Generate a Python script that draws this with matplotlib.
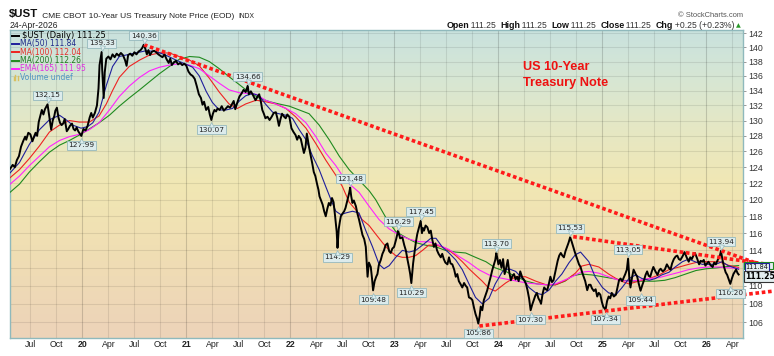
import numpy as np
import matplotlib.pyplot as plt
from matplotlib.colors import LinearSegmentedColormap
from matplotlib.lines import Line2D
from matplotlib.patches import Rectangle
from matplotlib.ticker import FixedLocator, FixedFormatter, NullLocator
from matplotlib.transforms import offset_copy, blended_transform_factory

W, H = 774, 356

# $UST daily close (decimal year, price)
ust = [
    (2019.305, 123.8), (2019.33, 124.3), (2019.35, 124.0), (2019.37, 124.9), (2019.39, 125.4),
    (2019.41, 126.6), (2019.43, 127.3), (2019.45, 127.9), (2019.46, 127.5), (2019.48, 128.4),
    (2019.50, 128.2), (2019.52, 127.3), (2019.535, 127.9), (2019.55, 128.4), (2019.565, 128.0),
    (2019.58, 129.8), (2019.595, 130.6), (2019.61, 131.4), (2019.625, 130.8), (2019.64, 131.5),
    (2019.655, 131.9), (2019.665, 132.15), (2019.675, 131.2), (2019.69, 129.7), (2019.70, 128.8),
    (2019.715, 130.0), (2019.73, 130.6), (2019.74, 131.3), (2019.755, 131.7), (2019.77, 130.4),
    (2019.785, 129.7), (2019.80, 129.4), (2019.815, 129.6), (2019.83, 130.2), (2019.85, 128.6),
    (2019.865, 128.9), (2019.88, 129.3), (2019.90, 129.6), (2019.915, 128.9), (2019.93, 128.7),
    (2019.945, 129.1), (2019.96, 128.6), (2019.975, 128.3), (2019.99, 127.99), (2020.01, 128.9),
    (2020.03, 128.7), (2020.05, 129.3), (2020.07, 130.4), (2020.085, 131.0), (2020.10, 130.4),
    (2020.12, 131.0), (2020.14, 132.0), (2020.155, 134.3), (2020.165, 137.5), (2020.185, 139.33),
    (2020.19, 137.0), (2020.205, 133.0), (2020.215, 136.5), (2020.23, 138.4), (2020.25, 138.7),
    (2020.27, 138.3), (2020.29, 139.0), (2020.31, 138.6), (2020.33, 139.1), (2020.35, 138.8),
    (2020.37, 139.2), (2020.39, 138.9), (2020.41, 138.2), (2020.425, 137.4), (2020.44, 138.9),
    (2020.46, 139.1), (2020.48, 138.8), (2020.50, 139.3), (2020.52, 139.0), (2020.54, 139.4),
    (2020.56, 139.6), (2020.575, 139.9), (2020.59, 140.36), (2020.605, 139.8), (2020.62, 139.0),
    (2020.635, 139.6), (2020.65, 138.9), (2020.67, 139.4), (2020.69, 139.5), (2020.71, 139.3),
    (2020.73, 139.0), (2020.75, 138.8), (2020.77, 138.6), (2020.79, 139.0), (2020.81, 138.3),
    (2020.83, 137.8), (2020.845, 138.4), (2020.86, 137.5), (2020.88, 137.9), (2020.90, 138.1),
    (2020.92, 137.6), (2020.94, 137.8), (2020.96, 137.5), (2020.98, 137.7), (2021.00, 137.4),
    (2021.02, 136.6), (2021.04, 136.2), (2021.06, 136.0), (2021.08, 135.6), (2021.10, 134.6),
    (2021.12, 133.5), (2021.14, 133.0), (2021.155, 132.1), (2021.17, 132.5), (2021.19, 131.4),
    (2021.21, 131.8), (2021.225, 130.8), (2021.24, 130.07), (2021.255, 130.9), (2021.27, 131.4),
    (2021.285, 131.2), (2021.30, 131.6), (2021.32, 131.4), (2021.34, 131.9), (2021.36, 131.3),
    (2021.38, 131.6), (2021.40, 131.9), (2021.42, 131.7), (2021.44, 132.2), (2021.455, 132.6),
    (2021.47, 131.5), (2021.49, 132.4), (2021.51, 133.2), (2021.53, 133.6), (2021.55, 134.1),
    (2021.57, 133.8), (2021.59, 134.66), (2021.60, 133.5), (2021.62, 133.9), (2021.64, 133.4),
    (2021.665, 132.7), (2021.685, 133.2), (2021.70, 133.5), (2021.715, 132.6), (2021.73, 131.4),
    (2021.745, 130.9), (2021.76, 130.3), (2021.78, 130.5), (2021.80, 130.07), (2021.82, 130.5),
    (2021.84, 131.0), (2021.86, 131.1), (2021.875, 130.3), (2021.89, 129.3), (2021.905, 130.2),
    (2021.92, 130.9), (2021.94, 130.5), (2021.955, 130.3), (2021.97, 130.8), (2021.99, 130.5),
    (2022.01, 129.0), (2022.03, 128.5), (2022.05, 128.1), (2022.065, 127.5), (2022.08, 128.0),
    (2022.10, 127.6), (2022.115, 126.7), (2022.13, 125.8), (2022.145, 126.5), (2022.158, 128.3),
    (2022.175, 126.9), (2022.19, 125.8), (2022.21, 124.5), (2022.225, 123.4), (2022.24, 122.9),
    (2022.255, 122.0), (2022.27, 121.2), (2022.28, 120.4), (2022.295, 119.9), (2022.31, 119.4),
    (2022.325, 118.6), (2022.34, 118.0), (2022.355, 118.9), (2022.37, 119.6), (2022.385, 119.3),
    (2022.40, 120.2), (2022.415, 119.7), (2022.43, 118.0), (2022.445, 116.2), (2022.453, 114.29),
    (2022.465, 116.5), (2022.475, 117.3), (2022.485, 118.0), (2022.50, 118.3), (2022.517, 118.6),
    (2022.53, 119.0), (2022.549, 120.0), (2022.565, 120.8), (2022.575, 121.48), (2022.585, 120.4),
    (2022.597, 119.6), (2022.61, 119.9), (2022.63, 119.2), (2022.645, 118.3), (2022.66, 117.6),
    (2022.675, 116.8), (2022.693, 115.8), (2022.71, 115.3), (2022.725, 114.4), (2022.735, 112.4),
    (2022.742, 111.0), (2022.755, 112.6), (2022.773, 112.1), (2022.785, 110.8), (2022.795, 109.48),
    (2022.81, 110.5), (2022.825, 111.0), (2022.837, 111.3), (2022.85, 112.3), (2022.869, 112.9),
    (2022.885, 113.6), (2022.90, 114.0), (2022.915, 114.6), (2022.933, 114.8), (2022.95, 113.9),
    (2022.965, 113.7), (2022.98, 114.2), (2022.997, 114.4), (2023.015, 115.2), (2023.036, 116.29),
    (2023.055, 115.4), (2023.077, 115.5), (2023.095, 114.6), (2023.11, 114.0), (2023.125, 113.0),
    (2023.14, 112.1), (2023.152, 111.3), (2023.163, 110.29), (2023.18, 112.5), (2023.196, 114.0),
    (2023.21, 115.2), (2023.22, 115.9), (2023.235, 116.6), (2023.253, 117.45), (2023.265, 116.0),
    (2023.275, 116.6), (2023.285, 116.3), (2023.30, 116.9), (2023.317, 116.7), (2023.335, 116.0),
    (2023.35, 116.3), (2023.365, 115.2), (2023.38, 114.4), (2023.395, 114.8), (2023.41, 114.0),
    (2023.425, 113.6), (2023.446, 113.2), (2023.46, 113.6), (2023.475, 113.0), (2023.49, 112.6),
    (2023.51, 112.4), (2023.525, 113.2), (2023.54, 112.5), (2023.557, 112.4), (2023.575, 111.8),
    (2023.59, 111.0), (2023.605, 111.3), (2023.62, 110.5), (2023.635, 110.2), (2023.653, 109.8),
    (2023.67, 110.3), (2023.685, 110.0), (2023.70, 109.8), (2023.717, 108.7), (2023.735, 108.6),
    (2023.75, 108.4), (2023.765, 107.6), (2023.78, 106.9), (2023.795, 106.4), (2023.807, 105.86),
    (2023.82, 106.7), (2023.83, 107.7), (2023.845, 107.3), (2023.86, 108.4), (2023.875, 108.9),
    (2023.893, 109.5), (2023.91, 110.3), (2023.926, 111.0), (2023.94, 111.7), (2023.958, 112.4),
    (2023.97, 112.9), (2023.98, 113.70), (2023.99, 113.1), (2024.0, 112.4), (2024.015, 112.9),
    (2024.03, 112.0), (2024.045, 113.0), (2024.06, 111.3), (2024.075, 112.0), (2024.09, 112.9),
    (2024.105, 111.5), (2024.12, 110.6), (2024.135, 111.1), (2024.15, 111.3), (2024.165, 110.7),
    (2024.18, 111.0), (2024.195, 110.5), (2024.21, 111.6), (2024.23, 110.9), (2024.25, 110.6),
    (2024.265, 110.2), (2024.28, 109.5), (2024.295, 108.6), (2024.31, 107.30), (2024.325, 107.9),
    (2024.34, 108.4), (2024.355, 108.9), (2024.37, 109.2), (2024.385, 108.6), (2024.40, 108.3),
    (2024.41, 108.0), (2024.425, 109.1), (2024.44, 109.8), (2024.455, 109.6), (2024.47, 109.5),
    (2024.485, 110.2), (2024.50, 111.0), (2024.515, 110.4), (2024.53, 110.6), (2024.545, 111.4),
    (2024.557, 112.1), (2024.57, 112.8), (2024.585, 113.4), (2024.60, 113.7), (2024.615, 113.4),
    (2024.63, 113.2), (2024.645, 113.9), (2024.66, 114.4), (2024.675, 114.9), (2024.69, 115.53),
    (2024.705, 115.0), (2024.72, 114.4), (2024.735, 113.8), (2024.76, 112.9), (2024.775, 112.4),
    (2024.79, 112.1), (2024.805, 111.5), (2024.82, 111.0), (2024.835, 110.5), (2024.854, 109.5),
    (2024.87, 110.1), (2024.886, 110.1), (2024.90, 109.7), (2024.918, 109.4), (2024.935, 109.6),
    (2024.95, 108.8), (2024.965, 109.2), (2024.98, 109.0), (2024.995, 108.2), (2025.008, 107.7),
    (2025.03, 107.34), (2025.045, 108.3), (2025.06, 108.8), (2025.075, 108.6), (2025.09, 109.2),
    (2025.11, 108.8), (2025.13, 109.0), (2025.145, 109.8), (2025.16, 110.6), (2025.175, 110.8),
    (2025.19, 110.5), (2025.205, 110.9), (2025.22, 111.3), (2025.235, 111.8), (2025.247, 113.05),
    (2025.258, 111.0), (2025.27, 109.8), (2025.285, 110.9), (2025.30, 111.8), (2025.32, 111.3),
    (2025.335, 111.0), (2025.35, 110.2), (2025.367, 109.44), (2025.385, 110.1), (2025.40, 110.6),
    (2025.415, 111.2), (2025.43, 111.6), (2025.445, 111.1), (2025.46, 111.0), (2025.475, 111.6),
    (2025.49, 112.1), (2025.51, 111.6), (2025.53, 111.2), (2025.545, 111.7), (2025.56, 111.9),
    (2025.58, 111.6), (2025.60, 111.8), (2025.62, 112.4), (2025.64, 112.0), (2025.655, 111.8),
    (2025.67, 112.5), (2025.687, 113.0), (2025.705, 113.3), (2025.72, 113.4), (2025.735, 113.0),
    (2025.75, 112.9), (2025.77, 113.3), (2025.79, 113.8), (2025.81, 113.2), (2025.83, 112.7),
    (2025.845, 113.2), (2025.86, 113.0), (2025.875, 113.4), (2025.89, 113.7), (2025.91, 113.1),
    (2025.93, 112.4), (2025.945, 112.8), (2025.96, 112.7), (2025.975, 112.9), (2025.99, 112.25),
    (2026.005, 112.5), (2026.02, 112.7), (2026.04, 112.3), (2026.06, 112.1), (2026.075, 112.6),
    (2026.09, 112.4), (2026.105, 112.8), (2026.12, 113.2), (2026.132, 113.5), (2026.14, 113.94),
    (2026.155, 112.9), (2026.17, 112.1), (2026.185, 111.5), (2026.20, 111.2), (2026.215, 110.7),
    (2026.23, 110.20), (2026.245, 110.8), (2026.26, 111.3), (2026.275, 111.6), (2026.285, 111.8),
    (2026.30, 111.4), (2026.31, 111.25),
]

ma50 = [
    (2019.305, 123.3), (2019.395, 124.6), (2019.49, 126.9), (2019.587, 128.8), (2019.683, 130.1),
    (2019.78, 130.7), (2019.843, 130.1), (2019.907, 129.4), (2019.987, 129.0), (2020.05, 129.2),
    (2020.10, 129.7), (2020.16, 131.1), (2020.23, 134.7), (2020.29, 137.3), (2020.355, 138.7),
    (2020.48, 139.1), (2020.61, 139.5), (2020.71, 139.4), (2020.80, 138.9), (2020.90, 138.2),
    (2021.0, 137.6), (2021.06, 137.2), (2021.124, 136.0), (2021.19, 133.9), (2021.25, 132.4),
    (2021.316, 131.4), (2021.38, 131.4), (2021.444, 131.6), (2021.51, 132.6), (2021.57, 133.3),
    (2021.636, 133.6), (2021.70, 133.3), (2021.76, 132.2), (2021.83, 131.1), (2021.89, 130.9),
    (2021.957, 130.7), (2022.02, 130.3), (2022.085, 128.8), (2022.15, 127.5), (2022.21, 125.5),
    (2022.277, 123.7), (2022.34, 121.6), (2022.39, 120.0), (2022.437, 118.6), (2022.485, 118.2),
    (2022.533, 118.4), (2022.597, 118.6), (2022.66, 118.4), (2022.725, 116.3), (2022.79, 114.4),
    (2022.853, 112.4), (2022.90, 111.9), (2022.95, 112.25), (2023.013, 113.2), (2023.077, 114.0),
    (2023.14, 113.8), (2023.205, 114.0), (2023.27, 114.6), (2023.35, 115.4), (2023.40, 115.4),
    (2023.46, 114.4), (2023.525, 113.7), (2023.59, 112.9), (2023.653, 111.8), (2023.717, 110.2),
    (2023.78, 108.7), (2023.845, 108.0), (2023.91, 108.6), (2023.97, 110.2), (2024.04, 111.6),
    (2024.10, 111.9), (2024.166, 111.6), (2024.23, 110.8), (2024.294, 109.8), (2024.36, 109.2),
    (2024.42, 109.0), (2024.486, 109.5), (2024.55, 110.5), (2024.61, 111.3), (2024.68, 112.6),
    (2024.74, 113.5), (2024.79, 113.8), (2024.87, 112.7), (2024.93, 111.0), (2025.0, 109.8),
    (2025.06, 109.2), (2025.13, 109.0), (2025.19, 109.8), (2025.255, 110.8), (2025.32, 111.2),
    (2025.38, 110.8), (2025.45, 110.6), (2025.51, 110.8), (2025.57, 111.2), (2025.64, 111.5),
    (2025.70, 112.1), (2025.77, 112.7), (2025.83, 113.0), (2025.89, 112.7), (2025.96, 112.4),
    (2026.02, 112.4), (2026.09, 112.4), (2026.15, 112.7), (2026.21, 112.25), (2026.31, 111.84),
]

ma100 = [
    (2019.305, 122.7), (2019.395, 123.7), (2019.49, 125.1), (2019.587, 126.7), (2019.683, 128.5),
    (2019.78, 129.4), (2019.875, 130.0), (2019.97, 129.8), (2020.067, 129.8), (2020.16, 130.6),
    (2020.23, 132.2), (2020.29, 134.0), (2020.355, 135.8), (2020.45, 137.3), (2020.55, 138.2),
    (2020.645, 138.9), (2020.74, 139.2), (2020.836, 139.2), (2020.93, 138.7), (2021.03, 138.2),
    (2021.124, 137.4), (2021.22, 135.7), (2021.316, 133.8), (2021.41, 132.2), (2021.49, 131.6),
    (2021.57, 132.2), (2021.67, 132.7), (2021.76, 132.5), (2021.86, 132.2), (2021.957, 131.6),
    (2022.05, 130.5), (2022.15, 129.0), (2022.245, 127.0), (2022.34, 124.9), (2022.437, 123.0),
    (2022.50, 121.6), (2022.565, 119.7), (2022.63, 118.75), (2022.69, 117.6), (2022.757, 116.9),
    (2022.82, 115.9), (2022.885, 114.9), (2022.95, 114.0), (2023.013, 113.4), (2023.077, 113.2),
    (2023.14, 113.2), (2023.205, 113.4), (2023.27, 114.0), (2023.33, 114.6), (2023.40, 114.6),
    (2023.46, 114.4), (2023.525, 114.0), (2023.59, 113.4), (2023.653, 112.7), (2023.717, 111.9),
    (2023.78, 111.2), (2023.845, 110.5), (2023.91, 109.7), (2023.97, 109.4), (2024.07, 110.3),
    (2024.166, 111.0), (2024.26, 111.0), (2024.36, 110.5), (2024.46, 110.1), (2024.55, 110.1),
    (2024.65, 110.6), (2024.74, 111.4), (2024.80, 112.2), (2024.87, 112.4), (2024.966, 112.1),
    (2025.06, 111.3), (2025.16, 110.6), (2025.255, 110.2), (2025.35, 110.5), (2025.45, 110.8),
    (2025.545, 111.2), (2025.64, 111.8), (2025.74, 112.1), (2025.83, 112.4), (2025.93, 112.7),
    (2026.02, 112.7), (2026.12, 112.7), (2026.21, 112.3), (2026.31, 112.04),
]

ma200 = [
    (2019.305, 120.9), (2019.395, 121.9), (2019.49, 123.4), (2019.587, 124.7), (2019.683, 125.9),
    (2019.78, 126.8), (2019.875, 127.4), (2019.97, 128.1), (2020.067, 128.9), (2020.16, 129.7),
    (2020.26, 130.7), (2020.355, 131.9), (2020.45, 133.0), (2020.55, 134.1), (2020.645, 135.2),
    (2020.74, 136.3), (2020.836, 137.3), (2020.93, 138.3), (2021.03, 138.7), (2021.124, 138.6),
    (2021.22, 138.0), (2021.316, 137.0), (2021.41, 135.9), (2021.51, 134.8), (2021.60, 133.8),
    (2021.70, 133.0), (2021.80, 132.5), (2021.89, 132.2), (2021.99, 131.9), (2022.085, 131.4),
    (2022.18, 130.9), (2022.277, 129.4), (2022.373, 127.5), (2022.47, 125.4), (2022.565, 123.7),
    (2022.66, 122.4), (2022.757, 121.1), (2022.82, 120.0), (2022.92, 117.8), (2023.013, 116.2),
    (2023.11, 115.5), (2023.205, 114.9), (2023.30, 114.6), (2023.40, 114.4), (2023.49, 114.0),
    (2023.59, 113.8), (2023.685, 113.7), (2023.78, 113.2), (2023.88, 112.7), (2023.97, 112.0),
    (2024.07, 111.6), (2024.17, 111.0), (2024.27, 110.5), (2024.37, 110.2), (2024.46, 110.1),
    (2024.55, 110.1), (2024.64, 110.5), (2024.71, 111.1), (2024.80, 111.3), (2024.90, 111.2),
    (2025.0, 111.0), (2025.10, 110.8), (2025.20, 110.6), (2025.30, 110.5), (2025.40, 110.5),
    (2025.50, 110.5), (2025.60, 110.6), (2025.70, 110.9), (2025.80, 111.3), (2025.90, 111.7),
    (2026.0, 111.9), (2026.10, 112.0), (2026.20, 112.15), (2026.31, 112.26),
]

ema165 = [
    (2019.305, 121.9), (2019.395, 122.9), (2019.49, 124.2), (2019.587, 125.4), (2019.683, 126.6),
    (2019.78, 127.4), (2019.875, 127.9), (2019.97, 128.2), (2020.067, 128.8), (2020.16, 129.7),
    (2020.26, 131.4), (2020.355, 133.2), (2020.45, 134.6), (2020.55, 135.8), (2020.645, 136.7),
    (2020.74, 137.2), (2020.836, 137.5), (2020.93, 137.7), (2021.03, 137.5), (2021.124, 137.0),
    (2021.22, 136.0), (2021.316, 135.0), (2021.41, 134.1), (2021.51, 133.7), (2021.60, 133.6),
    (2021.67, 133.5), (2021.76, 132.7), (2021.86, 132.2), (2021.957, 131.6), (2022.05, 130.9),
    (2022.15, 129.7), (2022.245, 127.9), (2022.34, 125.8), (2022.437, 124.2), (2022.533, 122.3),
    (2022.66, 120.9), (2022.757, 119.2), (2022.853, 117.6), (2022.95, 116.5), (2023.045, 115.8),
    (2023.14, 115.3), (2023.24, 115.0), (2023.33, 115.0), (2023.43, 114.6), (2023.525, 114.1),
    (2023.62, 113.3), (2023.717, 112.6), (2023.81, 111.8), (2023.91, 111.2), (2024.0, 110.9),
    (2024.09, 110.7), (2024.18, 110.5), (2024.27, 110.3), (2024.36, 110.2), (2024.46, 110.1),
    (2024.55, 110.2), (2024.63, 110.6), (2024.71, 111.0), (2024.79, 111.5), (2024.87, 111.6),
    (2024.966, 111.4), (2025.06, 111.0), (2025.16, 110.6), (2025.255, 110.5), (2025.35, 110.6),
    (2025.45, 110.8), (2025.545, 110.9), (2025.64, 111.2), (2025.74, 111.5), (2025.83, 111.8),
    (2025.93, 112.0), (2026.02, 112.1), (2026.12, 112.1), (2026.21, 112.0), (2026.31, 111.95),
]

# labelled highs / lows
lab_t = [2019.665, 2019.99, 2020.185, 2020.59, 2021.24, 2021.59, 2022.453, 2022.575, 2022.795,
         2023.036, 2023.163, 2023.253, 2023.807, 2023.98, 2024.31, 2024.69, 2025.03, 2025.247,
         2025.367, 2026.14, 2026.23]
lab_v = [132.15, 127.99, 139.33, 140.36, 130.07, 134.66, 114.29, 121.48, 109.48,
         116.29, 110.29, 117.45, 105.86, 113.70, 107.30, 115.53, 107.34, 113.05,
         109.44, 113.94, 110.20]
lab_up = [True, False, True, True, False, True, False, True, False,
          True, False, True, False, True, False, True, False, True,
          False, True, False]

# hand drawn trend lines (start, end)
trend_lines = [
    ((2020.592, 140.36), (2026.631, 111.90)),
    ((2024.720, 115.59), (2026.631, 112.33)),
    ((2023.817, 105.60), (2026.631, 109.38)),
]

# last values shown as tags on the price axis
tag_v = [112.26, 111.84, 111.25]

xtick_labels = ['Jul', 'Oct', '20', 'Apr', 'Jul', 'Oct', '21', 'Apr', 'Jul', 'Oct', '22', 'Apr',
                'Jul', 'Oct', '23', 'Apr', 'Jul', 'Oct', '24', 'Apr', 'Jul', 'Oct', '25', 'Apr',
                'Jul', 'Oct', '26', 'Apr']
yticks = list(range(106, 143, 2))
# 112 sits under the value tags on the original, so it is not printed
ytick_labels = ['' if v == 112 else str(v) for v in yticks]

legend_rows = [
    ('$UST (Daily) 111.25', 'black', '#000000'),
    ('MA(50) 111.84', '#1f2a8a', '#1f1f9c'),
    ('MA(100) 112.04', '#e5302a', '#ee2222'),
    ('MA(200) 112.26', '#1f7a1f', '#1f8a1f'),
    ('EMA(165) 111.95', '#e02ee0', '#ff22ff'),
]

plt.rcParams['font.family'] = ['DejaVu Sans']

fig = plt.figure(figsize=(W / 100, H / 100), dpi=100)
fig.patch.set_facecolor('white')

L, R, T, B = 10, 743, 30, 337.7
pos = [L / W, 1 - B / H, (R - L) / W, (B - T) / H]

# gradient background
bg = fig.add_axes(pos, zorder=0)
cmap = LinearSegmentedColormap.from_list('bg', [
    (0.0, '#edd3b9'), (0.3, '#f0dfb3'), (0.5, '#f1e7b4'),
    (0.7, '#e4e8c6'), (0.85, '#d6e6d4'), (1.0, '#c9e2de')])
bg.imshow(np.linspace(0, 1, 256).reshape(-1, 1), aspect='auto', cmap=cmap,
          origin='lower', extent=[0, 1, 0, 1])
bg.axis('off')

ax = fig.add_axes(pos, zorder=1)
ax.patch.set_alpha(0)
ax.set_yscale('log')
ax.set_xlim(2019.304, 2026.352)
ax.set_ylim(104.36, 142.47)

xt = 2019.5 + 0.25 * np.arange(len(xtick_labels))
ax.xaxis.set_major_locator(FixedLocator(xt))
ax.xaxis.set_major_formatter(FixedFormatter(xtick_labels))
ax.xaxis.set_minor_locator(NullLocator())
ax.tick_params(axis='x', length=0, pad=2.0, labelsize=6.3, labelcolor='#222222')
for lbl in ax.get_xticklabels():
    lbl.set_family('Liberation Sans')
    if lbl.get_text().isdigit():
        lbl.set_fontweight('bold')

ax.yaxis.tick_right()
ax.yaxis.set_major_locator(FixedLocator(yticks))
ax.yaxis.set_major_formatter(FixedFormatter(ytick_labels))
ax.yaxis.set_minor_locator(NullLocator())
ax.tick_params(axis='y', length=2.5, width=0.6, color='#888888', pad=1.5,
               labelsize=6.3, labelcolor='#333333')
for lbl in ax.get_yticklabels():
    lbl.set_family('Liberation Sans')

for v in yticks:
    ax.axhline(v, color='#000000', alpha=0.09, lw=0.8, zorder=1)
for x, s in zip(xt, xtick_labels):
    ax.axvline(x, color='#000000', alpha=0.16 if s.isdigit() else 0.09, lw=0.8, zorder=1)

for sp in ax.spines.values():
    sp.set_color('#8fb9bc')
    sp.set_linewidth(1.0)

# moving averages
for data, c in [(ma200, '#1f8a1f'), (ma100, '#ee2222'), (ema165, '#ff22ff'), (ma50, '#1f1f9c')]:
    t, v = zip(*data)
    ax.plot(t, v, color=c, lw=0.8, zorder=3)

t, v = zip(*ust)
ax.plot(t, v, color='black', lw=1.4, zorder=4, solid_joinstyle='round')

# trend lines
for (t0, v0), (t1, v1) in trend_lines:
    ax.plot([t0, t1], [v0, v1], color='#ff1a1a', lw=2.6, linestyle=(0, (1, 0.75)),
            dash_capstyle='butt', zorder=5, clip_on=False)

# high/low labels
box_fc, box_ec = '#dcebec', '#95b9bd'
for t, v, up in zip(lab_t, lab_v, lab_up):
    dy = 9.0 if up else -9.5
    ax.annotate(f'{v:.2f}', (t, v), xytext=(0, dy * 0.72), textcoords='offset points',
                ha='center', va='center', fontsize=5.3, color='#222222', zorder=7,
                bbox=dict(boxstyle='square,pad=0.2', fc=box_fc, ec=box_ec, lw=0.6))
    tr = offset_copy(ax.transData, fig=fig, x=0, y=(4.2 if up else -4.2), units='dots')
    ax.plot([t], [v], marker='v' if up else '^', ms=3.6, mfc=box_fc, mec=box_ec, mew=0.5,
            transform=tr, zorder=8, clip_on=False)

# value tags at right edge (stacked, the top one mostly hidden as on the original)
trb = blended_transform_factory(ax.transAxes, ax.transData)
ax.add_patch(Rectangle((1.002, tag_v[0] - 0.42), 0.039, 0.84, transform=trb, fc='#e4eef0',
                       ec='#1f8a1f', lw=0.8, clip_on=False, zorder=9))
tr_up = offset_copy(trb, fig=fig, x=0, y=2.2, units='dots')
ax.text(1.003, tag_v[1], f'{tag_v[1]:.2f}', transform=tr_up, fontsize=4.8, ha='left',
        va='center', color='#111111', clip_on=False, zorder=9,
        bbox=dict(boxstyle='square,pad=0.1', fc='#e4eef0', ec='#1f1f9c', lw=0.8))
tr_dn = offset_copy(trb, fig=fig, x=0, y=-1.8, units='dots')
ax.text(1.003, tag_v[2], f'{tag_v[2]:.2f}', transform=tr_dn, fontsize=5.6, fontweight='bold',
        ha='left', va='center', color='black', clip_on=False, zorder=10,
        bbox=dict(boxstyle='square,pad=0.1', fc='#e4eef0', ec='#333333', lw=0.8))

# chart note
fig.text(523 / W, 1 - 69.5 / H, 'US 10-Year', fontsize=9.2, color='#ee1111',
         family='Liberation Sans', fontweight='bold', va='baseline')
fig.text(523 / W, 1 - 86.3 / H, 'Treasury Note', fontsize=9.2, color='#ee1111',
         family='Liberation Sans', fontweight='bold', va='baseline')

# legend block
rows_y = [35.6, 43.9, 52.2, 60.5, 68.8, 77.1]
for i, (txt, tc, lc) in enumerate(legend_rows):
    y = 1 - rows_y[i] / H
    fig.add_artist(Line2D([12.5 / W, 18.8 / W], [y, y], color=lc, lw=1.4, zorder=20))
    fig.text((22.3 if i == 0 else 20.0) / W, y, txt, fontsize=6.0 if i == 0 else 5.5,
             color=tc, va='center', zorder=20)
yv = 1 - rows_y[5] / H
for k, hgt in enumerate([3.0, 5.0, 3.5]):
    fig.add_artist(Line2D([(13.5 + 2 * k) / W] * 2, [yv - 2.5 / H, yv - 2.5 / H + hgt / H],
                          color='#d8c060', lw=1.0, zorder=20))
fig.text(20.0 / W, yv, 'Volume undef', fontsize=5.5, color='#4f95c4', va='center', zorder=20)

# header
renderer = fig.canvas.get_renderer()


def runs(x, y, parts, align='left'):
    arts = [fig.text(0, 0, s, va='baseline', **kw) for s, kw in parts]
    widths = [a.get_window_extent(renderer).width for a in arts]
    cur = x if align == 'left' else x - sum(widths)
    for a, w in zip(arts, widths):
        a.set_position((cur / W, 1 - y / H))
        cur += w


hf = ['Liberation Sans', 'DejaVu Sans']
runs(9, 17.5, [
    ('$UST', dict(fontsize=8.2, fontweight='bold', family=hf, color='#111111')),
    ('\u2002CME CBOT 10-Year US Treasury Note Price (EOD)\u2002',
     dict(fontsize=6.0, family=hf, color='#222222')),
    ('INDX', dict(fontsize=4.9, family=hf, color='#222222')),
])
fig.text(10 / W, 1 - 27.5 / H, '24-Apr-2026', fontsize=6.2, family=hf, color='#222222')
fig.text(743 / W, 1 - 17.3 / H, '\u00a9 StockCharts.com', fontsize=5.4, family=hf,
         color='#555555', ha='right')

b = dict(fontsize=6.4, fontweight='bold', family=hf, color='#111111')
n = dict(fontsize=6.2, family=hf, color='#333333')
runs(741, 27.5, [
    ('Open', b), ('\u2009111.25\u2002', n), ('High', b), ('\u2009111.25\u2002', n),
    ('Low', b), ('\u2009111.25\u2002', n), ('Close', b), ('\u2009111.25\u2002', n),
    ('Chg', b), ('\u2009+0.25 (+0.23%)\u2009', n),
    ('\u25b2', dict(fontsize=4.5, family=['DejaVu Sans'], color='#2a9a2a')),
], align='right')

fig.savefig('out.png', dpi=100)
